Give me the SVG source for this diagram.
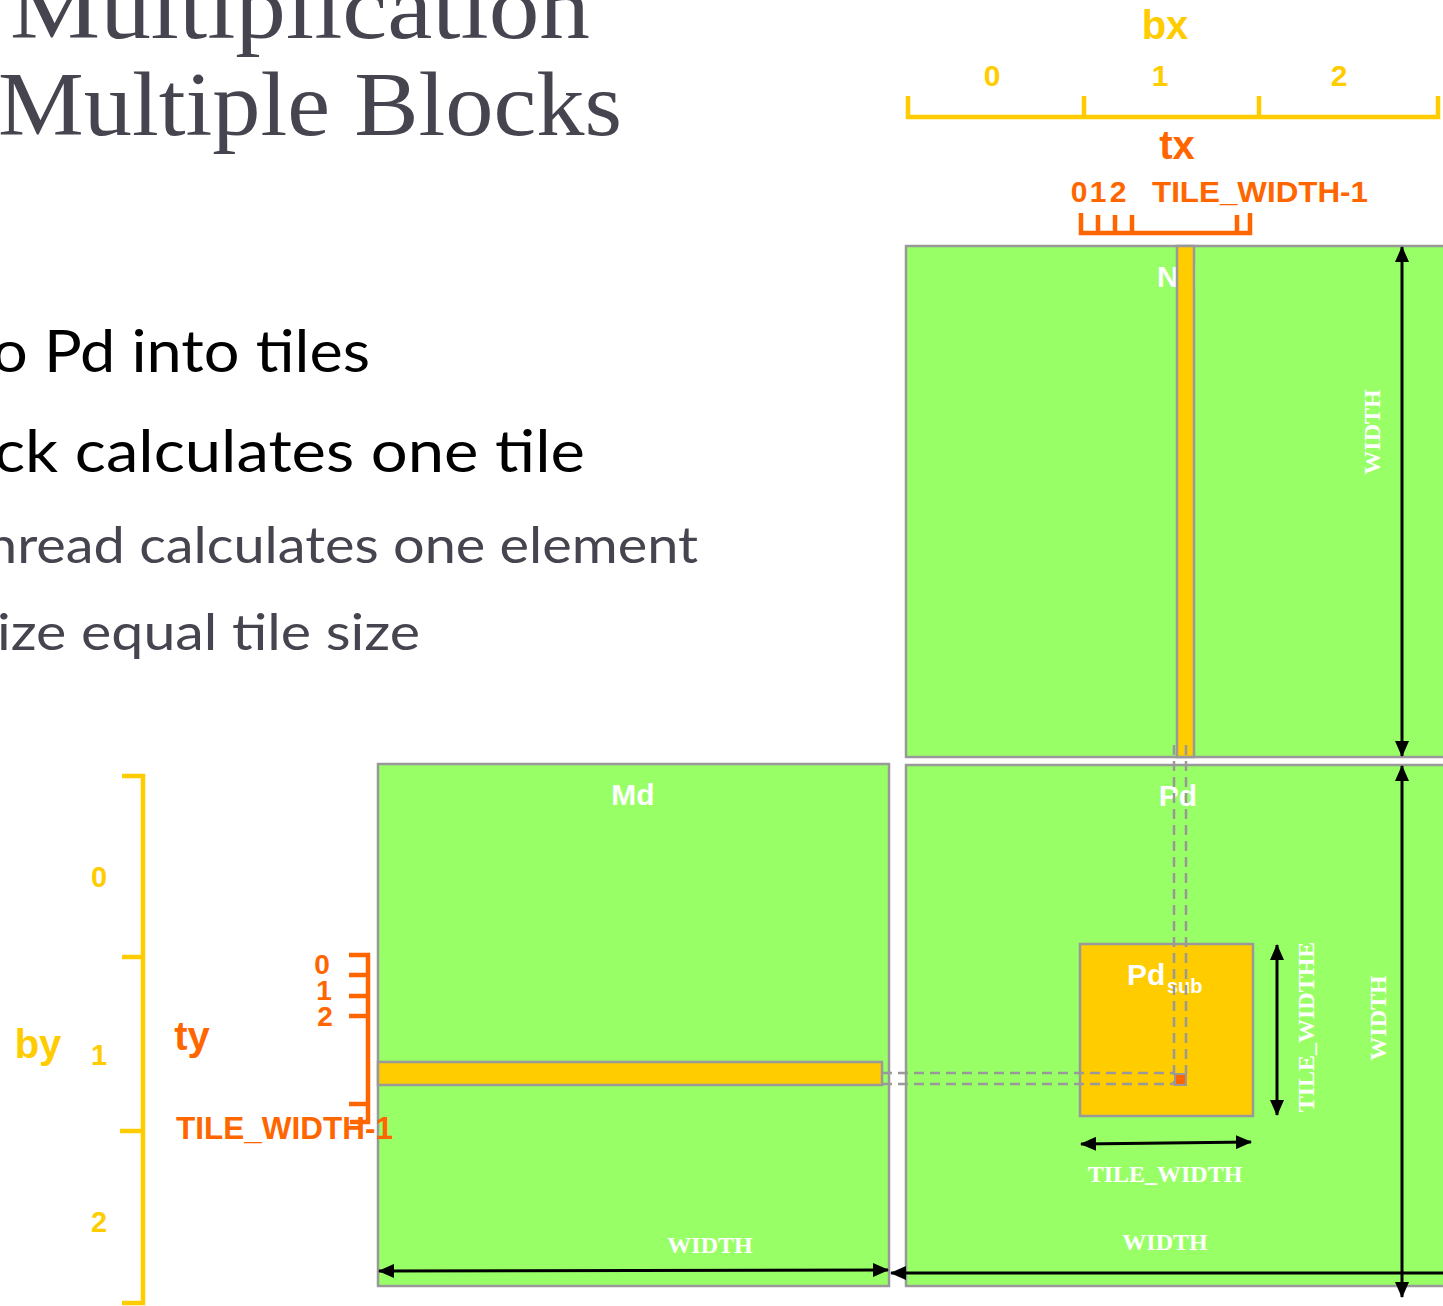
<svg xmlns="http://www.w3.org/2000/svg" width="1443" height="1306" viewBox="0 0 1443 1306">
<defs>
<marker id="ah" viewBox="0 0 16 14" refX="15" refY="7" markerWidth="16" markerHeight="14" markerUnits="userSpaceOnUse" orient="auto-start-reverse">
<path d="M0,0 L16,7 L0,14 Z" fill="#000"/>
</marker>
<style>
.mat{fill:#99ff66;stroke:#999999;stroke-width:2.5}
.strip{fill:#ffcc00;stroke:#999999;stroke-width:2.5}
.lbl{font-family:"Liberation Sans",Arial,sans-serif;font-weight:bold;fill:#ffffff;font-size:30px;text-anchor:middle}
.dim{font-family:"Liberation Serif","Times New Roman",serif;font-weight:bold;fill:#ffffff;font-size:24px;text-anchor:middle}
.arr{stroke:#000;stroke-width:3;fill:none;marker-start:url(#ah);marker-end:url(#ah)}
.yel{stroke:#ffcc00;stroke-width:4.5;fill:none}
.org{stroke:#ff6600;stroke-width:4.5;fill:none}
.ytxt{font-family:"Liberation Sans",Arial,sans-serif;font-weight:bold;fill:#ffcc00;text-anchor:middle}
.otxt{font-family:"Liberation Sans",Arial,sans-serif;font-weight:bold;fill:#ff6600}
.dash{stroke:#999999;stroke-width:2.5;stroke-dasharray:10,6;fill:none}
.title{font-family:"Liberation Serif","Times New Roman",serif;fill:#46454f;font-size:90px}
.bul{font-family:Lato,"Open Sans",sans-serif}
</style>
</defs>

<g id="title">
<text class="title" x="10" y="38" textLength="580" lengthAdjust="spacingAndGlyphs">Multiplication</text>
<text class="title" x="-2" y="135" textLength="624" lengthAdjust="spacingAndGlyphs">Multiple Blocks</text>
</g>

<g id="bullets" class="bul">
<text x="-8" y="372" font-size="58" fill="#000" textLength="378" lengthAdjust="spacingAndGlyphs">o Pd into tiles</text>
<text x="-6" y="472" font-size="58" fill="#000" textLength="591" lengthAdjust="spacingAndGlyphs">ck calculates one tile</text>
<text x="-14" y="563" font-size="50" fill="#46454f" textLength="712" lengthAdjust="spacingAndGlyphs">hread calculates one element</text>
<text x="-3" y="650" font-size="50" fill="#46454f" textLength="423" lengthAdjust="spacingAndGlyphs">ize equal tile size</text>
</g>

<g id="matrix-N">
<rect class="mat" x="906" y="246" width="560" height="511"/>
<text class="lbl" x="1177" y="287">Nd</text>
<rect class="strip" x="1177" y="246" width="17" height="511"/>
<text class="dim" transform="translate(1380,432) rotate(-90)">WIDTH</text>
</g>

<g id="matrix-Md">
<rect class="mat" x="378" y="764" width="511" height="522"/>
<text class="lbl" x="633" y="805">Md</text>
<rect class="strip" x="378" y="1062" width="504" height="23"/>
<text class="dim" x="710" y="1253">WIDTH</text>
</g>

<g id="matrix-Pd">
<rect class="mat" x="906" y="765" width="560" height="521"/>
<text class="lbl" x="1178" y="806">Pd</text>
<text class="dim" transform="translate(1386,1018) rotate(-90)">WIDTH</text>
<text class="dim" x="1165" y="1182">TILE_WIDTH</text>
<text class="dim" x="1165" y="1250">WIDTH</text>
</g>

<g id="Pdsub">
<rect class="strip" x="1080" y="944" width="173" height="172"/>
<text class="lbl" x="1127" y="985" style="text-anchor:start;font-size:30px">Pd</text>
<text class="lbl" x="1167" y="993" style="text-anchor:start;font-size:20px">sub</text>
<rect x="1175" y="1074" width="11" height="11" fill="#ff6600" stroke="#999999" stroke-width="2"/>
<text class="dim" transform="translate(1314,1027) rotate(-90)">TILE_WIDTHE</text>
</g>

<g id="bx-axis">
<text class="ytxt" x="1165" y="39" font-size="40">bx</text>
<text class="ytxt" x="992" y="86" font-size="30">0</text>
<text class="ytxt" x="1160" y="86" font-size="30">1</text>
<text class="ytxt" x="1339" y="86" font-size="30">2</text>
<path class="yel" d="M908,96 V117 H1438 V96 M1084,96 V117 M1259,96 V117"/>
</g>

<g id="tx-axis">
<text class="otxt" x="1177" y="159" font-size="40" text-anchor="middle">tx</text>
<text class="otxt" x="1079" y="202" font-size="30" text-anchor="middle">0</text>
<text class="otxt" x="1098" y="202" font-size="30" text-anchor="middle">1</text>
<text class="otxt" x="1118" y="202" font-size="30" text-anchor="middle">2</text>
<text class="otxt" x="1152" y="202" font-size="30" textLength="216" lengthAdjust="spacingAndGlyphs">TILE_WIDTH-1</text>
<path class="org" d="M1081,213 V233 H1250 V213 M1098,215 V233 M1115,215 V233 M1132,215 V233 M1237,215 V233"/>
</g>

<g id="by-axis">
<text class="ytxt" x="38" y="1058" font-size="40">by</text>
<text class="ytxt" x="99" y="887" font-size="29">0</text>
<text class="ytxt" x="99" y="1065" font-size="29">1</text>
<text class="ytxt" x="99" y="1232" font-size="29">2</text>
<path class="yel" d="M122,776 H143 V1303 H122 M122,957 H143 M120,1131 H143"/>
</g>

<g id="ty-axis">
<text class="otxt" x="192" y="1050" font-size="40" text-anchor="middle">ty</text>
<text class="otxt" x="322" y="974" font-size="28" text-anchor="middle">0</text>
<text class="otxt" x="324" y="1000" font-size="28" text-anchor="middle">1</text>
<text class="otxt" x="325" y="1026" font-size="28" text-anchor="middle">2</text>
<path class="org" d="M349,955 H368 V1122 H350 M349,975 H368 M349,996 H368 M349,1016 H368 M349,1104 H368"/>
<text class="otxt" x="176" y="1139" font-size="31" textLength="217" lengthAdjust="spacingAndGlyphs">TILE_WIDTH-1</text>
</g>

<g id="connectors">
<path class="dash" d="M1174,745 V1084 M1186,745 V1074"/>
<path class="dash" d="M882,1073 H1175 M882,1084 H1175"/>
<line class="arr" x1="1402" y1="247" x2="1402" y2="756"/>
<line class="arr" x1="1402" y1="766" x2="1402" y2="1297"/>
<line class="arr" x1="379" y1="1271" x2="888" y2="1270"/>
<line class="arr" x1="891" y1="1273" x2="1458" y2="1273"/>
<line class="arr" x1="1277" y1="945" x2="1277" y2="1115"/>
<line class="arr" x1="1081" y1="1144" x2="1251" y2="1142"/>
</g>
</svg>
